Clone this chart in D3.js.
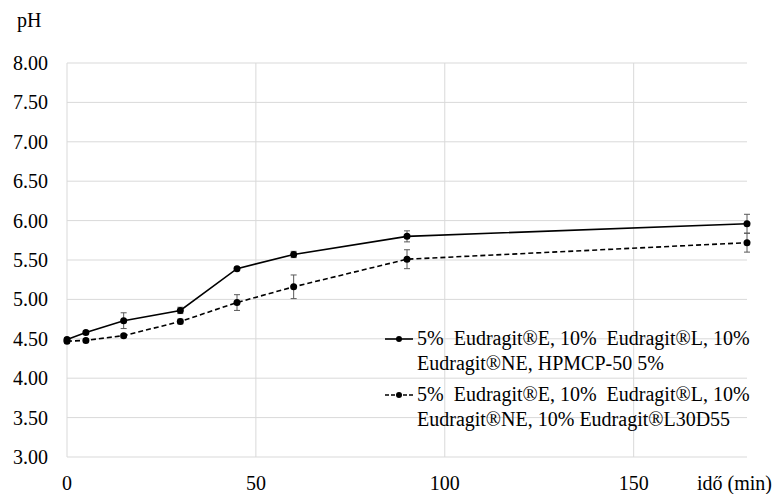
<!DOCTYPE html>
<html>
<head>
<meta charset="utf-8">
<script src="https://cdn.jsdelivr.net/npm/d3@7"></script>
<style>
  body { margin: 0; background: #fff; }
  #chart text { font-family: "Liberation Serif", "Times New Roman", serif !important; white-space: pre; }
</style>
</head>
<body>
<svg id="chart" width="784" height="494"></svg>
<script>
// time points (min)
var times = [0, 5, 15, 30, 45, 60, 90, 180];

// series 1: 5% E, 10% L, 10% NE, HPMCP-50 5%
var phSolid = [4.49, 4.58, 4.73, 4.86, 5.39, 5.57, 5.80, 5.96];
var errSolid = [0.02, 0.02, 0.10, 0.04, 0.02, 0.04, 0.07, 0.12];

// series 2: 5% E, 10% L, 10% NE, 10% L30D55
var phDashed = [4.47, 4.48, 4.54, 4.72, 4.96, 5.16, 5.51, 5.72];
var errDashed = [0.02, 0.02, 0.02, 0.03, 0.10, 0.15, 0.12, 0.12];

var yTicks = [3, 3.5, 4, 4.5, 5, 5.5, 6, 6.5, 7, 7.5, 8];
var xTicks = [0, 50, 100, 150];

var legendLines = [
  ["5%  Eudragit®E, 10%  Eudragit®L, 10%", "Eudragit®NE, HPMCP-50 5%"],
  ["5%  Eudragit®E, 10%  Eudragit®L, 10%", "Eudragit®NE, 10% Eudragit®L30D55"]
];

var width = 784, height = 494;
var margin = { left: 67, right: 37, top: 63, bottom: 37 };

var svg = d3.select("#chart");

// serif font set inline, with priority, on every label
function serif(sel) {
  return sel
    .style("font-family", "'Liberation Serif', 'Times New Roman', serif", "important")
    .style("font-size", "20px")
    .attr("fill", "#000");
}

var x = d3.scaleLinear().domain([0, 180]).range([margin.left, width - margin.right]);
var y = d3.scaleLinear().domain([3, 8]).range([height - margin.bottom, margin.top]);

// horizontal gridlines
svg.append("g").selectAll("line")
  .data(yTicks)
  .enter().append("line")
  .attr("x1", x(0)).attr("x2", x(180))
  .attr("y1", function(d) { return y(d); })
  .attr("y2", function(d) { return y(d); })
  .attr("stroke", "#d9d9d9").attr("stroke-width", 1);

// vertical gridlines
svg.append("g").selectAll("line")
  .data(xTicks)
  .enter().append("line")
  .attr("x1", function(d) { return x(d); })
  .attr("x2", function(d) { return x(d); })
  .attr("y1", y(3)).attr("y2", y(8))
  .attr("stroke", "#d9d9d9").attr("stroke-width", 1);

// y tick labels
serif(svg.append("g").selectAll("text")
  .data(yTicks)
  .enter().append("text"))
  .attr("x", 48)
  .attr("y", function(d) { return y(d) + 7; })
  .attr("text-anchor", "end")
  .text(function(d) { return d.toFixed(2); });

// x tick labels
serif(svg.append("g").selectAll("text")
  .data(xTicks)
  .enter().append("text"))
  .attr("x", function(d) { return x(d); })
  .attr("y", 490)
  .attr("text-anchor", "middle")
  .text(function(d) { return d; });

serif(svg.append("text"))
  .attr("x", 17).attr("y", 27)
  .text("pH");

serif(svg.append("text"))
  .attr("x", 772).attr("y", 490)
  .attr("text-anchor", "end")
  .text("idő (min)");

var series = [
  { ph: phSolid, err: errSolid, dash: null },
  { ph: phDashed, err: errDashed, dash: "5,3" }
];

var line = d3.line()
  .x(function(d) { return x(d.t); })
  .y(function(d) { return y(d.v); });

series.forEach(function(s) {
  var pts = times.map(function(t, i) { return { t: t, v: s.ph[i], e: s.err[i] }; });

  // error bars
  var eb = svg.append("g").selectAll("g")
    .data(pts)
    .enter().append("g")
    .attr("stroke", "#595959").attr("stroke-width", 1);
  eb.append("line")
    .attr("x1", function(d) { return x(d.t); })
    .attr("x2", function(d) { return x(d.t); })
    .attr("y1", function(d) { return y(d.v + d.e); })
    .attr("y2", function(d) { return y(d.v - d.e); });
  eb.append("line")
    .attr("x1", function(d) { return x(d.t) - 3; })
    .attr("x2", function(d) { return x(d.t) + 3; })
    .attr("y1", function(d) { return y(d.v + d.e); })
    .attr("y2", function(d) { return y(d.v + d.e); });
  eb.append("line")
    .attr("x1", function(d) { return x(d.t) - 3; })
    .attr("x2", function(d) { return x(d.t) + 3; })
    .attr("y1", function(d) { return y(d.v - d.e); })
    .attr("y2", function(d) { return y(d.v - d.e); });

  svg.append("path")
    .datum(pts)
    .attr("fill", "none")
    .attr("stroke", "#000")
    .attr("stroke-width", 1.6)
    .attr("stroke-dasharray", s.dash)
    .attr("d", line);

  svg.append("g").selectAll("circle")
    .data(pts)
    .enter().append("circle")
    .attr("cx", function(d) { return x(d.t); })
    .attr("cy", function(d) { return y(d.v); })
    .attr("r", 3.5)
    .attr("fill", "#000");
});

// legend
var legendY = [345, 401];
series.forEach(function(s, i) {
  var g = svg.append("g");
  var ly = legendY[i] - 6;
  g.append("line")
    .attr("x1", 385).attr("x2", 413)
    .attr("y1", ly).attr("y2", ly)
    .attr("stroke", "#000").attr("stroke-width", 1.6)
    .attr("stroke-dasharray", s.dash ? "4,2" : null);
  g.append("circle")
    .attr("cx", 399).attr("cy", ly).attr("r", 3)
    .attr("fill", "#000");
  serif(g.selectAll("text")
    .data(legendLines[i])
    .enter().append("text"))
    .attr("x", 417)
    .attr("y", function(d, k) { return legendY[i] + k * 25; })
    .text(function(d) { return d; });
});
</script>
</body>
</html>
